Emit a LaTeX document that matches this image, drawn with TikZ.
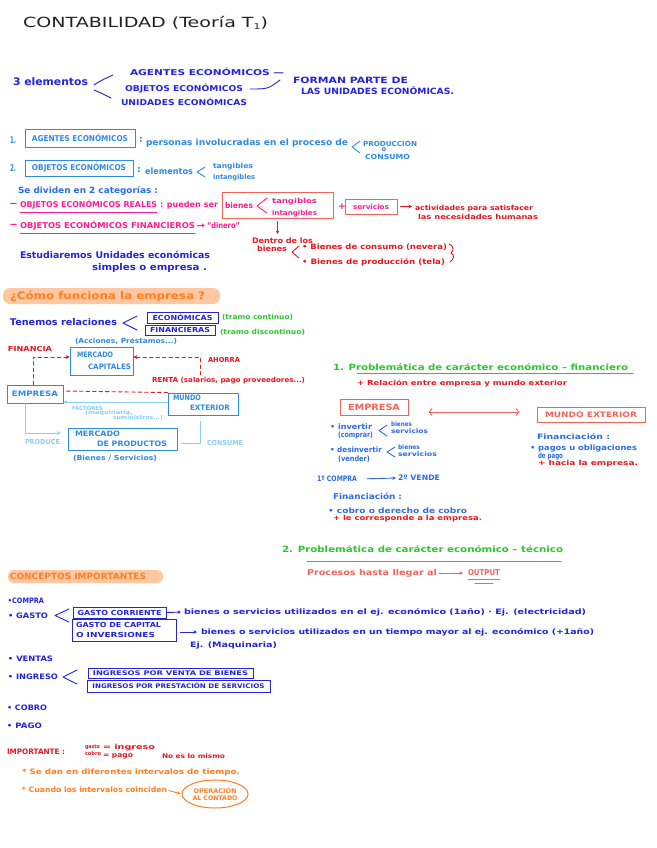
\documentclass[tikz,border=0pt]{standalone}
\usepackage{fontspec}
\setmainfont{DejaVu Sans}
\usepackage{graphicx}
\usetikzlibrary{arrows.meta,shapes.geometric}
\definecolor{xink}{HTML}{222222}
\definecolor{xdb}{HTML}{2323E0}
\definecolor{xlb}{HTML}{2F8AE6}
\definecolor{xmb}{HTML}{2B6CE8}
\definecolor{xvb}{HTML}{8CCFF2}
\definecolor{xmg}{HTML}{FF1C8E}
\definecolor{xrd}{HTML}{E8161E}
\definecolor{xsa}{HTML}{F2645A}
\definecolor{xog}{HTML}{FF7E22}
\definecolor{xpe}{HTML}{FFC8A2}
\definecolor{xgr}{HTML}{2EC62E}
\newcommand\hw[2]{\resizebox{#1pt}{\height}{#2}}
\begin{document}
\begin{tikzpicture}[x=1pt,y=-1pt,
 tx/.style={anchor=west,inner sep=0pt,outer sep=0pt},
 fs/.style={/utils/exec={\pgfmathsetmacro\fsz{#1*1.15}},font=\fontsize{\fsz}{\fsz}\selectfont\bfseries},
 bx/.style={draw,line width=0.9pt,inner sep=0pt},
 pen/.style={line width=0.9pt,line cap=round,line join=round},
 arr/.style={pen,-{Stealth[length=3.5pt,width=3.5pt]}},
 rdash/.style={pen,xrd,dash pattern=on 3.5pt off 3pt},
]
\fill[white] (0,0) rectangle (656,848);
\path[use as bounding box] (0,0) rectangle (656,848);

% title
\node[tx,xink,font=\fontsize{14}{14}\selectfont] (title) at (23,23) {\hw{245}{CONTABILIDAD (Teoría T\raisebox{-2pt}{\fontsize{8}{8}\selectfont 1})}};

% 3 elementos
\node[tx,xdb,fs=9] (tres) at (13,82) {\hw{75}{3 elementos}};
\draw[pen,xdb] (113,75) .. controls (104,79) and (98,82) .. (94,85);
\draw[pen,xdb] (94,90) .. controls (99,92) and (105,95) .. (111,98);
\node[tx,xdb,fs=7] (age) at (130,72) {\hw{154}{AGENTES ECONÓMICOS —}};
\node[tx,xdb,fs=7] (obj) at (125,89) {\hw{118}{OBJETOS ECONÓMICOS}};
\node[tx,xdb,fs=7] (uni) at (121,102) {\hw{126}{UNIDADES ECONÓMICAS}};
\node[tx,xdb,fs=7.5] (for1) at (293,80) {\hw{115}{FORMAN PARTE DE}};
\node[tx,xdb,fs=7.5] (for2) at (301,91) {\hw{153}{LAS UNIDADES ECONÓMICAS.}};
\draw[pen,xdb] ([xshift=7pt]obj.east) .. controls +(18,0) .. ([xshift=-13pt]for1.west);

% 1. agentes
\node[tx,xlb,fs=8] (n1) at (10,140) {\hw{6}{1.}};
\node[bx,xlb,minimum width=110pt,minimum height=18pt,fs=7] (ag) at (80,138) {\hw{96}{AGENTES ECONÓMICOS}};
\node[tx,xlb,fs=8] (c1) at (139,140) {:};
\node[tx,xlb,fs=7.5] (pers) at (146,143) {\hw{202}{personas involucradas en el proceso de}};
\draw[pen,xlb] (360,141) -- (352,147) -- (360,153);
\node[tx,xlb,fs=6] (prod) at (363,143) {\hw{54}{PRODUCCIÓN}};
\node[xlb,fs=6,inner sep=0pt] (o1) at (384,150) {o};
\node[tx,xlb,fs=6] (cons) at (365,157) {\hw{45}{CONSUMO}};

% 2. objetos
\node[tx,xlb,fs=8] (n2) at (10,168) {\hw{6}{2.}};
\node[bx,xlb,minimum width=108pt,minimum height=16pt,fs=7] (ob) at (79,168) {\hw{94}{OBJETOS ECONÓMICOS}};
\node[tx,xlb,fs=8] (c2) at (137,170) {:};
\node[tx,xlb,fs=7.5] (ele) at (145,171) {\hw{48}{elementos}};
\draw[pen,xlb] (205,167) -- (197,172) -- (205,177);
\node[tx,xlb,fs=6] (tan) at (213,167) {\hw{40}{tangibles}};
\node[tx,xlb,fs=6] (intan) at (213,178) {\hw{42}{intangibles}};
\node[tx,xmb,fs=7.5] (sed) at (18,191) {\hw{140}{Se dividen en 2 categorías :}};

% reales
\node[tx,xmg,fs=8] (d1) at (10,205) {\hw{7}{—}};
\node[tx,xmg,fs=7] (oer) at (20,205) {\hw{137}{OBJETOS ECONÓMICOS REALES}};
\draw[pen,xmg] ([yshift=-2.5pt]oer.south west) -- ([yshift=-2.5pt]oer.south east);
\node[tx,xmg,fs=7] (pue) at (160,205) {\hw{58}{: pueden ser}};
\node[tx,xmg,fs=7] (bie) at (225,205) {\hw{28}{bienes}};
\draw[pen,xmg] (267,198) -- (257,206) -- (267,213);
\node[tx,xmg,fs=6] (tg2) at (272,202) {\hw{45}{tangibles}};
\node[tx,xmg,fs=6] (itg2) at (272,214) {\hw{45}{intangibles}};
\node[draw=xsa,line width=1pt,minimum width=111pt,minimum height=26pt] (bbox) at (277.5,205) {};
\node[tx,xmg,fs=8] (plus) at (338,207) {+};
\node[draw=xsa,text=xmg,line width=1pt,minimum width=52pt,minimum height=15pt,fs=6,inner sep=0pt] (serv) at (371,206.5) {\hw{36}{servicios}};
\node[tx,xrd,fs=6] (act1) at (415,209) {\hw{118}{actividades para satisfacer}};
\node[tx,xrd,fs=6] (act2) at (418,217) {\hw{120}{las necesidades humanas}};
\draw[arr,xrd,shorten <=3pt,shorten >=3pt] (serv.east) -- (serv.east -| act1.west);

% financieros
\node[tx,xmg,fs=8] (d2) at (10,226) {\hw{7}{—}};
\node[tx,xmg,fs=7] (oef) at (20,226) {\hw{175}{OBJETOS ECONÓMICOS FINANCIEROS}};
\draw[pen,xmg] ([yshift=-2.5pt]oef.south west) -- ([yshift=-2.5pt]oef.south east);
\node[tx,xmg,fs=7] (din) at (207,225) {\hw{33}{“dinero”}};
\draw[arr,xmg,shorten <=2pt,shorten >=2pt] (oef.east) -- (din.west);

% dentro de los bienes
\node[tx,xrd,fs=6.5] (den) at (252,241) {\hw{61}{Dentro de los}};
\node[tx,xrd,fs=6.5] (bns) at (257,249) {\hw{30}{bienes}};
\draw[arr,xrd,shorten <=3pt,shorten >=4pt] (bbox.south) -- (bbox.south |- den.north);
\draw[pen,xrd] (299,246) -- (292,252) -- (299,258);
\node[tx,xrd,fs=6.5] (bc) at (302,247) {\hw{145}{• Bienes de consumo (nevera)}};
\node[tx,xrd,fs=6.5] (bp) at (302,262) {\hw{143}{• Bienes de producción (tela)}};
\draw[pen,xrd] (449,244) .. controls (454,246) and (454,250) .. (451,253) .. controls (455,255) and (454,259) .. (450,262);

% estudiaremos
\node[tx,xdb,fs=8] (est1) at (20,255) {\hw{190}{Estudiaremos Unidades económicas}};
\node[tx,xdb,fs=8] (est2) at (92,268) {\hw{115}{simples o empresa .}};

% como funciona
\node[fill=xpe,rounded corners=7pt,minimum width=217pt,minimum height=16pt,inner sep=0pt] (hl1) at (111.5,296) {};
\node[tx,xog,fs=9] (como) at (10,296) {\hw{195}{¿Cómo funciona la empresa ?}};

% tenemos relaciones
\node[tx,xdb,fs=8] (ten) at (10,322) {\hw{107}{Tenemos relaciones}};
\draw[pen,xdb] (137,316) -- (123,323) -- (137,330);
\node[bx,xdb,minimum width=71pt,minimum height=11pt,fs=6] (eco) at (182.5,317.5) {\hw{60}{ECONÓMICAS}};
\node[bx,xdb,minimum width=70pt,minimum height=10pt,fs=6] (fin) at (180,330) {\hw{60}{FINANCIERAS}};
\node[tx,xgr,fs=6] (tc) at (222,317) {\hw{71}{(tramo continuo)}};
\node[tx,xgr,fs=6] (td) at (220,332) {\hw{85}{(tramo discontinuo)}};

% diagram
\node[tx,xlb,fs=6] (acc) at (75,341) {\hw{102}{(Acciones, Préstamos...)}};
\node[tx,xrd,fs=6] (fina) at (8,349) {\hw{44}{FINANCIA}};
\node[bx,xlb,minimum width=63pt,minimum height=28pt] (mc) at (101.5,361) {};
\node[tx,xlb,fs=6.5] (mc1) at (77,355) {\hw{36}{MERCADO}};
\node[tx,xlb,fs=6.5] (mc2) at (88,367) {\hw{43}{CAPITALES}};
\node[tx,xrd,fs=6] (aho) at (208,360) {\hw{32}{AHORRA}};
\node[tx,xrd,fs=6] (ren) at (152,381) {\hw{153}{RENTA (salarios, pago proveedores...)}};
\node[bx,xlb,minimum width=56pt,minimum height=18pt,fs=6.5] (emp) at (35,394) {\hw{46}{EMPRESA}};
\node[bx,xlb,minimum width=70pt,minimum height=22pt] (me) at (203,404) {};
\node[tx,xlb,fs=6.5] (me1) at (173,398) {\hw{28}{MUNDO}};
\node[tx,xlb,fs=6.5] (me2) at (190,408) {\hw{40}{EXTERIOR}};
\coordinate (ahc) at (200,375);
\draw[rdash,-{Stealth[length=4pt,width=4pt]}] (ahc) |- ([yshift=4pt]mc.east);
\draw[rdash,-{Stealth[length=4pt,width=4pt]}] ([xshift=-2pt]emp.north) |- ([yshift=4pt]mc.west);
\draw[rdash] (me.north west) -- ([yshift=3pt]emp.east);
\draw[arr,xvb] ([yshift=2pt]me.west) -- ([yshift=2pt]me.west -| emp.east);
\node[tx,xvb,fs=5] (fac1) at (72,408) {\hw{31}{FACTORES}};
\node[tx,xvb,fs=5] (fac2) at (85,413) {\hw{48}{(maquinaria,}};
\node[tx,xvb,fs=5] (fac3) at (113,418) {\hw{50}{suministros...)}};
\node[bx,xlb,minimum width=109pt,minimum height=22pt] (mp) at (122.5,439) {};
\node[tx,xlb,fs=6.5] (mp1) at (75,434) {\hw{45}{MERCADO}};
\node[tx,xlb,fs=6.5] (mp2) at (97,444) {\hw{70}{DE PRODUCTOS}};
\draw[arr,xvb,shorten >=7pt] ([xshift=-10pt]emp.south) |- ([yshift=6pt]mp.west);
\node[tx,xvb,fs=6] (prd) at (25,442) {\hw{35}{PRODUCE}};
\node[tx,xlb,fs=6] (bs) at (73,458) {\hw{84}{(Bienes / Servicios)}};
\draw[pen,xvb] ([xshift=4pt,yshift=-4pt]mp.east) -| ([xshift=-3pt,yshift=-6pt]me.south);
\node[tx,xvb,fs=6] (csm) at (207,443) {\hw{36}{CONSUME}};

% problematica 1
\node[tx,xgr,fs=7.5] (p1) at (333,367) {\hw{295}{1. Problemática de carácter económico – financiero}};
\draw[pen,xgr,line width=1pt] (357,373.5) -- (633,373.5);
\node[tx,xrd,fs=6] (rel) at (357,383) {\hw{210}{+ Relación entre empresa y mundo exterior}};
\node[draw=xsa,text=xsa,line width=1pt,minimum width=68pt,minimum height=16pt,fs=7.5,inner sep=0pt] (emp2) at (374,407) {\hw{52}{EMPRESA}};
\node[draw=xsa,text=xsa,line width=1pt,minimum width=108pt,minimum height=15pt,fs=6.5,inner sep=0pt] (me3) at (591,414.5) {\hw{92}{MUNDO EXTERIOR}};
\draw[pen,xsa,{Straight Barb[length=3pt,width=7pt]}-{Straight Barb[length=3pt,width=7pt]},shorten <=20pt,shorten >=17pt] ([yshift=-5pt]emp2.east) -- ([yshift=2.5pt]me3.west);
\node[tx,xmb,fs=6.5] (inv) at (330,427) {\hw{42}{• invertir}};
\node[tx,xmb,fs=6.5] (com) at (338,435) {\hw{35}{(comprar)}};
\draw[pen,xmb] (387,425) -- (379,430.5) -- (387,436);
\node[tx,xmb,fs=5.5] (b1) at (391,424) {\hw{21}{bienes}};
\node[tx,xmb,fs=5.5] (s1) at (391,431) {\hw{37}{servicios}};
\node[tx,xmb,fs=6.5] (des) at (330,450) {\hw{52}{• desinvertir}};
\node[tx,xmb,fs=6.5] (ven) at (338,459) {\hw{32}{(vender)}};
\draw[pen,xmb] (395,447) -- (387,452) -- (395,457);
\node[tx,xmb,fs=5.5] (b2) at (398,447) {\hw{22}{bienes}};
\node[tx,xmb,fs=5.5] (s2) at (398,454) {\hw{39}{servicios}};
\node[tx,xmb,fs=6.5] (cmp) at (317,479) {\hw{40}{1º COMPRA}};
\node[tx,xmb,fs=6.5] (vnd) at (398,478) {\hw{42}{2º VENDE}};
\draw[arr,xmb,shorten <=10pt,shorten >=2pt] (cmp.east) -- (vnd.west);
\node[tx,xmb,fs=7] (fin1) at (333,496) {\hw{69}{Financiación :}};
\node[tx,xmb,fs=6.5] (cob) at (328,511) {\hw{139}{• cobro o derecho de cobro}};
\node[tx,xrd,fs=6] (corr) at (333,519) {\hw{149}{+ le corresponde a la empresa.}};
\node[tx,xmb,fs=6.5] (fin2) at (537,437) {\hw{73}{Financiación :}};
\node[tx,xmb,fs=6.5] (pag) at (530,448) {\hw{107}{• pagos u obligaciones}};
\node[tx,xmb,fs=6.5] (dep) at (538,456) {\hw{25}{de pago}};
\node[tx,xrd,fs=6] (hac) at (538,464) {\hw{100}{+ hacia la empresa.}};

% problematica 2
\node[tx,xgr,fs=7.5] (p2) at (282,549) {\hw{281}{2. Problemática de carácter económico – técnico}};
\draw[pen,xgr,line width=1pt] (307,561) -- (561,561);
\node[tx,xsa,fs=7] (proc) at (307,573) {\hw{130}{Procesos hasta llegar al}};
\node[tx,xsa,fs=7] (out) at (468,573) {\hw{32}{OUTPUT}};
\draw[arr,xsa,shorten <=2pt,shorten >=5pt] (proc.east) -- (out.west);
\draw[pen,xsa] (468,579.5) -- (500,579.5);
\draw[pen,xsa] (475,583) -- (493,583);

% conceptos importantes
\node[fill=xpe,rounded corners=6pt,minimum width=155pt,minimum height=13pt,inner sep=0pt] (hl2) at (85.5,576.5) {};
\node[tx,xog,fs=7.5] (conc) at (10,576) {\hw{136}{CONCEPTOS IMPORTANTES}};
\node[tx,xdb,fs=6.5] (li1) at (8,601) {\hw{36}{•COMPRA}};
\node[tx,xdb,fs=6.5] (li2) at (8,616) {\hw{40}{• GASTO}};
\draw[pen,xdb] (69,609) -- (55,615.5) -- (69,622);
\node[bx,xdb,minimum width=93pt,minimum height=11pt,fs=6] (gc) at (119.5,612.5) {\hw{84}{GASTO CORRIENTE}};
\node[tx,xdb,fs=6.5] (gct) at (184,612) {\hw{402}{bienes o servicios utilizados en el ej. económico (1año) · Ej. (electricidad)}};
\draw[arr,xdb,shorten <=1pt,shorten >=3pt] (gc.east) -- (gct.west);
\node[bx,xdb,minimum width=104pt,minimum height=22pt] (gk) at (124,630) {};
\node[tx,xdb,fs=6] (gk1) at (76,625) {\hw{85}{GASTO DE CAPITAL}};
\node[tx,xdb,fs=6] (gk2) at (76,635) {\hw{79}{O INVERSIONES}};
\node[tx,xdb,fs=6.5] (gkt) at (201,632) {\hw{393}{bienes o servicios utilizados en un tiempo mayor al ej. económico (+1año)}};
\draw[arr,xdb,shorten <=4pt,shorten >=4pt] (gk.east |- gkt.west) -- (gkt.west);
\node[tx,xdb,fs=6.5] (maq) at (190,645) {\hw{87}{Ej. (Maquinaria)}};
\node[tx,xdb,fs=6.5] (li3) at (8,659) {\hw{45}{• VENTAS}};
\node[tx,xdb,fs=6.5] (li4) at (8,677) {\hw{50}{• INGRESO}};
\draw[pen,xdb] (77,670) -- (63,677) -- (77,684);
\node[bx,xdb,minimum width=165pt,minimum height=10pt,fs=5.5] (iv) at (170.5,673.5) {\hw{155}{INGRESOS POR VENTA DE BIENES}};
\node[bx,xdb,minimum width=183pt,minimum height=12pt,fs=5.5] (ip) at (178.5,686) {\hw{172}{INGRESOS POR PRESTACIÓN DE SERVICIOS}};
\node[tx,xdb,fs=6.5] (li5) at (7,708) {\hw{40}{• COBRO}};
\node[tx,xdb,fs=6.5] (li6) at (7,726) {\hw{35}{• PAGO}};

% importante
\node[tx,xrd,fs=6.5] (imp) at (7,752) {\hw{58}{IMPORTANTE :}};
\node[tx,xrd,fs=4.5] (ga) at (85,747) {\hw{15}{gasto}};
\node[tx,xrd,fs=4.5] (co) at (85,754) {\hw{16}{cobro}};
\node[tx,xrd,fs=6] (ing) at (103,748) {\hw{52}{= ingreso}};
\node[tx,xrd,fs=6] (pg) at (103,756) {\hw{30}{= pago}};
\node[tx,xrd,fs=5.5] (nol) at (162,756) {\hw{63}{No es lo mismo}};
\node[tx,xog,fs=6.5] (se) at (22,772) {\hw{218}{* Se dan en diferentes intervalos de tiempo.}};
\node[tx,xog,fs=6.5] (cu) at (22,790) {\hw{145}{* Cuando los intervalos coinciden}};
\node[ellipse,draw=xog,text=xog,line width=1pt,minimum width=66pt,minimum height=28pt,inner sep=0pt,fs=5.5,align=center] (opc) at (215,794) {\hw{43}{OPERACIÓN}\\\hw{45}{AL CONTADO}};
\draw[arr,xog,shorten <=2pt,shorten >=1pt] (cu.east) -- (opc.west);
\end{tikzpicture}
\end{document}
